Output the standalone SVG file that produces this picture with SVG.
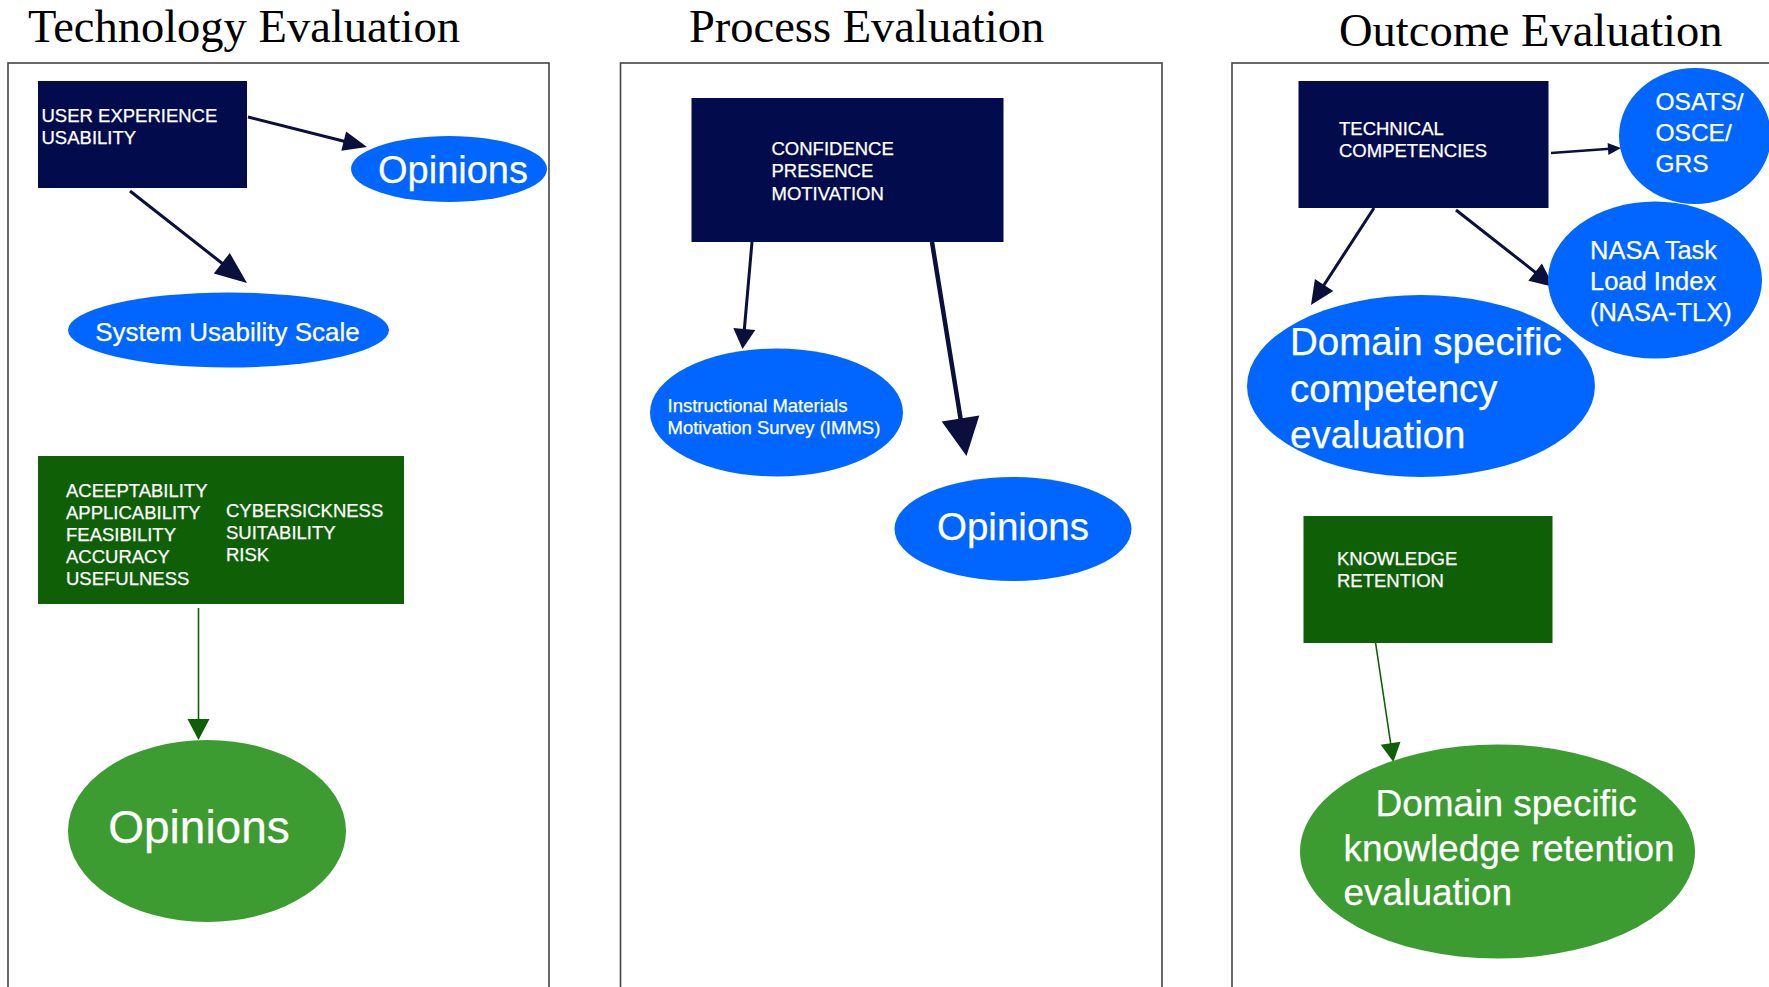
<svg xmlns="http://www.w3.org/2000/svg" width="1769" height="987" viewBox="0 0 1769 987">
  <style>
    .title { font-family: "Liberation Serif", "Times New Roman", serif; font-size: 46.5px; fill: #000; }
    .panel { fill: none; stroke: #444; stroke-width: 1.6; }
    .navy { fill: #020c4c; }
    .dgreen { fill: #0f5f07; }
    .blue { fill: #0066ff; }
    .lgreen { fill: #3c9c31; }
    .lbl { font-family: "Liberation Sans", Arial, sans-serif; fill: #fff; stroke: #fff; stroke-width: 0.25; }
    .box { font-size: 18.5px; }
    .edge { fill: none; stroke: #0a0f3c; }
    .edge-g { fill: none; stroke: #0f5f07; stroke-width: 1.6; }
    .head { fill: #0a0f3c; }
    .head-g { fill: #0f5f07; }
  </style>

  <rect width="1769" height="987" fill="#fff"/>

  <!-- column headings -->
  <text class="title" x="28" y="42">Technology Evaluation</text>
  <text class="title" x="689" y="42">Process Evaluation</text>
  <text class="title" x="1339" y="46">Outcome Evaluation</text>

  <!-- column frames (open at the bottom / right edge) -->
  <rect class="panel" x="8" y="63" width="541" height="960"/>
  <rect class="panel" x="620.5" y="63" width="541.5" height="960"/>
  <rect class="panel" x="1232" y="63" width="560" height="960"/>

  <!-- connectors -->
  <g id="connectors">
    <line class="edge" stroke-width="3" x1="248" y1="117" x2="345" y2="141.5"/>
    <polygon class="head" points="367,147 341.3,150.8 346.1,131.4"/>

    <line class="edge" stroke-width="3" x1="130" y1="191" x2="223" y2="264"/>
    <polygon class="head" points="247,283 213.8,273.4 229.8,253"/>

    <line class="edge-g" x1="198.5" y1="608" x2="198.5" y2="721"/>
    <polygon class="head-g" points="198.5,740 187.5,719 209.5,719"/>

    <line class="edge" stroke-width="3" x1="752" y1="242" x2="744.2" y2="331"/>
    <polygon class="head" points="742.5,349 733.3,328.1 755.3,330.1"/>

    <line class="edge" stroke-width="4.5" x1="932" y1="242" x2="960.8" y2="420"/>
    <polygon class="head" points="966.5,456 941.7,421.5 979.3,415.5"/>

    <line class="edge" stroke-width="2.5" x1="1551" y1="153" x2="1610" y2="148.8"/>
    <polygon class="head" points="1621,148 1608.4,154.9 1607.6,142.9"/>

    <line class="edge" stroke-width="3" x1="1456" y1="210" x2="1537" y2="273.6"/>
    <polygon class="head" points="1554,287 1528.3,280.8 1541.9,263.6"/>

    <line class="edge" stroke-width="3" x1="1374" y1="208" x2="1323" y2="286.5"/>
    <polygon class="head" points="1311,305 1314.9,278.9 1333.3,290.9"/>

    <line class="edge-g" x1="1375.6" y1="643" x2="1390.9" y2="745"/>
    <polygon class="head-g" points="1393.4,762 1380.7,744.7 1400.5,741.7"/>
  </g>

  <!-- Technology Evaluation -->
  <g id="ux-usability">
    <rect class="navy" x="38" y="81" width="209" height="107"/>
    <text class="lbl box" x="41.5" y="122">USER EXPERIENCE</text>
    <text class="lbl box" x="41.5" y="144">USABILITY</text>
  </g>
  <g id="opinions-tech">
    <ellipse class="blue" cx="449" cy="169" rx="98" ry="33"/>
    <text class="lbl" x="453" y="183" font-size="38" text-anchor="middle">Opinions</text>
  </g>
  <g id="sus">
    <ellipse class="blue" cx="228.5" cy="330" rx="160.5" ry="37.5"/>
    <text class="lbl" x="227.5" y="341" font-size="26" text-anchor="middle">System Usability Scale</text>
  </g>
  <g id="acceptability">
    <rect class="dgreen" x="38" y="456" width="366" height="148"/>
    <text class="lbl box" x="66" y="497">ACEEPTABILITY</text>
    <text class="lbl box" x="66" y="519">APPLICABILITY</text>
    <text class="lbl box" x="66" y="541">FEASIBILITY</text>
    <text class="lbl box" x="66" y="563">ACCURACY</text>
    <text class="lbl box" x="66" y="585">USEFULNESS</text>
    <text class="lbl box" x="226" y="517">CYBERSICKNESS</text>
    <text class="lbl box" x="226" y="539">SUITABILITY</text>
    <text class="lbl box" x="226" y="561">RISK</text>
  </g>
  <g id="opinions-tech-green">
    <ellipse class="lgreen" cx="207" cy="831" rx="139" ry="91"/>
    <text class="lbl" x="199" y="843" font-size="46" text-anchor="middle">Opinions</text>
  </g>

  <!-- Process Evaluation -->
  <g id="confidence">
    <rect class="navy" x="691.5" y="98" width="312" height="144"/>
    <text class="lbl box" x="771.5" y="155">CONFIDENCE</text>
    <text class="lbl box" x="771.5" y="177">PRESENCE</text>
    <text class="lbl box" x="771.5" y="200">MOTIVATION</text>
  </g>
  <g id="imms">
    <ellipse class="blue" cx="776.5" cy="412.5" rx="126.5" ry="64"/>
    <text class="lbl box" x="667.5" y="412">Instructional Materials</text>
    <text class="lbl box" x="667.5" y="434">Motivation Survey (IMMS)</text>
  </g>
  <g id="opinions-process">
    <ellipse class="blue" cx="1013" cy="529" rx="118.5" ry="52"/>
    <text class="lbl" x="1013" y="540" font-size="38.5" text-anchor="middle">Opinions</text>
  </g>

  <!-- Outcome Evaluation -->
  <g id="technical">
    <rect class="navy" x="1298.5" y="81" width="250" height="127"/>
    <text class="lbl box" x="1339" y="135">TECHNICAL</text>
    <text class="lbl box" x="1339" y="157">COMPETENCIES</text>
  </g>
  <g id="osats">
    <ellipse class="blue" cx="1695" cy="136" rx="76" ry="68"/>
    <text class="lbl" x="1655.5" y="110" font-size="24.5">OSATS/</text>
    <text class="lbl" x="1655.5" y="141" font-size="24.5">OSCE/</text>
    <text class="lbl" x="1655.5" y="172" font-size="24.5">GRS</text>
  </g>
  <g id="nasa-tlx">
    <ellipse class="blue" cx="1655" cy="280" rx="107" ry="78.5"/>
    <text class="lbl" x="1590" y="259" font-size="25.5">NASA Task</text>
    <text class="lbl" x="1590" y="290" font-size="25.5">Load Index</text>
    <text class="lbl" x="1590" y="321" font-size="25.5">(NASA-TLX)</text>
  </g>
  <g id="competency-eval">
    <ellipse class="blue" cx="1421" cy="386" rx="174" ry="91"/>
    <text class="lbl" x="1290" y="355" font-size="38.5">Domain specific</text>
    <text class="lbl" x="1290" y="402" font-size="38.5">competency</text>
    <text class="lbl" x="1290" y="448" font-size="38.5">evaluation</text>
  </g>
  <g id="knowledge">
    <rect class="dgreen" x="1303.5" y="516" width="249" height="127"/>
    <text class="lbl box" x="1337" y="565">KNOWLEDGE</text>
    <text class="lbl box" x="1337" y="587">RETENTION</text>
  </g>
  <g id="retention-eval">
    <ellipse class="lgreen" cx="1497.5" cy="851.5" rx="197.5" ry="107"/>
    <text class="lbl" x="1375.5" y="816" font-size="37">Domain specific</text>
    <text class="lbl" x="1343.5" y="861" font-size="37">knowledge retention</text>
    <text class="lbl" x="1343.5" y="905" font-size="37">evaluation</text>
  </g>
</svg>
